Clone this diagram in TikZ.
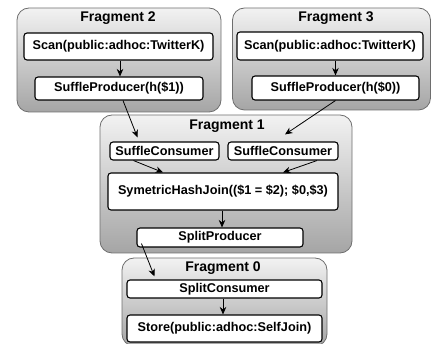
\documentclass[tikz,border=0pt]{standalone}
\usepackage{fontspec}
\setmainfont{Liberation Sans}
\usetikzlibrary{arrows.meta}
\definecolor{fragTop}{RGB}{242,242,242}
\definecolor{fragBot}{RGB}{165,165,165}
\definecolor{fragEdge}{RGB}{110,110,110}
\newcommand{\fsz}[1]{\fontsize{#1}{#1}\bfseries}

\begin{document}
\begin{tikzpicture}[x=1pt,y=-1pt,>={Stealth[length=7.5pt,width=6.5pt]},
  frag/.style={draw=fragEdge,line width=0.8pt,rounded corners=12pt,top color=fragTop,bottom color=fragBot,inner sep=0pt},
  op/.style={draw,line width=1.1pt,rounded corners=3pt,fill=white,inner sep=0pt,font=\fsz{12.7}},
  ftitle/.style={font=\fsz{14},inner sep=0pt},
  flow/.style={->,line width=0.8pt}]
\useasboundingbox (0,0) rectangle (431,344);
% fragments (gray boxes)
\node[frag,minimum width=204pt,minimum height=104pt] (fragB) at (119,60) {};
\node[frag,minimum width=198pt,minimum height=102pt] (fragC) at (331.5,59) {};
\node[frag,minimum width=252pt,minimum height=138pt] (fragA) at (226,184) {};
\node[frag,minimum width=205pt,minimum height=88pt] (fragZ) at (224.5,302) {};
\node[ftitle] (titleB) at (118,18) {Fragment 2};
\node[ftitle] (titleC) at (336,18) {Fragment 3};
\node[ftitle] (titleA) at (227,126) {Fragment 1};
\node[ftitle] (titleZ) at (223,268) {Fragment 0};
% operators
\node[op,minimum width=189pt,minimum height=27pt] (scanB) at (118.5,46.5) {Scan(public:adhoc:TwitterK)};
\node[op,minimum width=168pt,minimum height=23pt] (spB) at (119,88.5) {SuffleProducer(h(\$1))};
\node[op,minimum width=186pt,minimum height=28pt] (scanC) at (330,46) {Scan(public:adhoc:TwitterK)};
\node[op,minimum width=167pt,minimum height=24pt] (spC) at (335.5,88) {SuffleProducer(h(\$0))};
\node[op,minimum width=109pt,minimum height=18pt] (scL) at (164.5,151) {SuffleConsumer};
\node[op,minimum width=110pt,minimum height=18pt] (scR) at (283,151) {SuffleConsumer};
\node[op,minimum width=230pt,minimum height=37pt] (shj) at (223,191.5) {SymetricHashJoin((\$1 = \$2); \$0,\$3)};
\node[op,minimum width=166pt,minimum height=19pt] (splitP) at (220,237.5) {SplitProducer};
\node[op,minimum width=195pt,minimum height=18pt] (splitC) at (224.5,289) {SplitConsumer};
\node[op,minimum width=195pt,minimum height=27pt] (store) at (224.5,328.5) {Store(public:adhoc:SelfJoin)};
% data flow
\draw[flow] ([xshift=1.5pt]scanB.south) -- ([xshift=1.5pt]scanB.south |- spB.north);
\draw[flow] (spC.north |- scanC.south) -- (spC.north);
\draw[flow] ([xshift=4pt]spB.south) -- ([xshift=-27pt,yshift=4pt]scL.north);
\draw[flow] (spC.south) -- ([xshift=2pt,yshift=7pt]scR.north);
\draw[flow] ([xshift=-31pt]scL.south) -- ([xshift=-60pt]shj.north);
\draw[flow] ([xshift=34pt]scR.south) -- ([xshift=60pt]shj.north);
\draw[flow] ([xshift=-1pt]shj.south) -- ([xshift=-1pt]shj.south |- splitP.north);
\draw[flow] ([xshift=5pt,yshift=4pt]splitP.south west) -- ([xshift=28pt,yshift=3pt]splitC.north west);
\draw[flow] ([xshift=-1.5pt]splitC.south) -- ([xshift=-1.5pt]splitC.south |- store.north);
\end{tikzpicture}
\end{document}
